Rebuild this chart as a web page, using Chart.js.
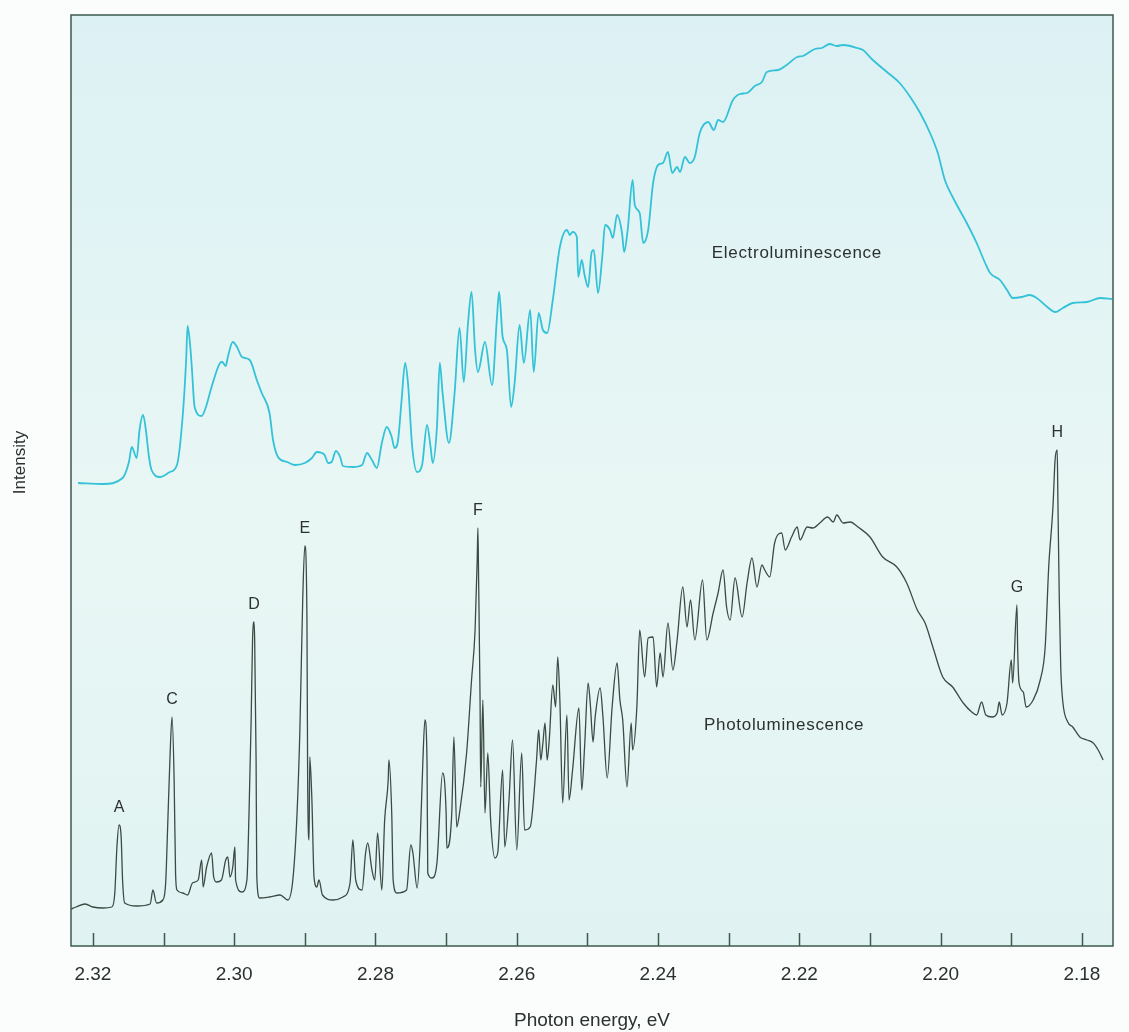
<!DOCTYPE html>
<html>
<head>
<meta charset="utf-8">
<title>Electroluminescence and photoluminescence spectra</title>
<script src="https://cdn.jsdelivr.net/npm/chart.js@4/dist/chart.umd.min.js"></script>
<style>
  html, body { margin: 0; padding: 0; background: #fbfdfc; }
  #wrap { width: 1129px; height: 1032px; }
</style>
</head>
<body>
<div id="wrap"><canvas id="spectrumChart" width="1129" height="1032"></canvas></div>
<script>
// photon energy (eV) and intensity (arbitrary units)
const elEnergy = [2.3221, 2.3186, 2.3158, 2.3149, 2.3145, 2.3138, 2.3134, 2.3129, 2.3125, 2.3121,
  2.3117, 2.3105, 2.3091, 2.3081, 2.3073, 2.3068, 2.3066, 2.3063, 2.3060, 2.3056,
  2.3046, 2.3040, 2.3032, 2.3020, 2.3017, 2.3012, 2.3009, 2.3002, 2.2996, 2.2989,
  2.2978, 2.2968, 2.2961, 2.2950, 2.2945, 2.2938, 2.2925, 2.2914, 2.2900, 2.2890,
  2.2883, 2.2876, 2.2872, 2.2867, 2.2862, 2.2856, 2.2850, 2.2846, 2.2832, 2.2819,
  2.2812, 2.2805, 2.2798, 2.2791, 2.2784, 2.2777, 2.2773, 2.2768, 2.2763, 2.2758,
  2.2754, 2.2748, 2.2741, 2.2734, 2.2727, 2.2722, 2.2719, 2.2713, 2.2709, 2.2705,
  2.2696, 2.2688, 2.2681, 2.2675, 2.2669, 2.2664, 2.2659, 2.2655, 2.2645, 2.2635,
  2.2628, 2.2625, 2.2620, 2.2614, 2.2608, 2.2603, 2.2596, 2.2590, 2.2581, 2.2576,
  2.2569, 2.2563, 2.2557, 2.2549, 2.2539, 2.2529, 2.2525, 2.2521, 2.2515, 2.2513,
  2.2508, 2.2504, 2.2499, 2.2494, 2.2491, 2.2485, 2.2479, 2.2475, 2.2468, 2.2464,
  2.2458, 2.2451, 2.2448, 2.2443, 2.2436, 2.2433, 2.2426, 2.2421, 2.2414, 2.2407,
  2.2400, 2.2393, 2.2386, 2.2380, 2.2373, 2.2369, 2.2362, 2.2355, 2.2348, 2.2341,
  2.2329, 2.2321, 2.2315, 2.2308, 2.2294, 2.2284, 2.2274, 2.2263, 2.2253, 2.2246,
  2.2230, 2.2218, 2.2203, 2.2195, 2.2178, 2.2168, 2.2157, 2.2147, 2.2138, 2.2118,
  2.2110, 2.2096, 2.2076, 2.2058, 2.2043, 2.2029, 2.2015, 2.2004, 2.1994, 2.1983,
  2.1963, 2.1949, 2.1937, 2.1930, 2.1916, 2.1906, 2.1898, 2.1885, 2.1874, 2.1864,
  2.1849, 2.1838, 2.1827, 2.1813, 2.1793, 2.1774, 2.1757];
const elIntensity = [463, 462, 468, 484, 499, 488, 516, 531, 516, 491,
  476, 469, 474, 481, 529, 586, 620, 606, 579, 539,
  530, 539, 559, 583, 584, 580, 589, 604, 599, 589,
  586, 566, 553, 533, 506, 489, 484, 481, 483, 488,
  494, 493, 491, 483, 484, 495, 489, 480, 479, 481,
  493, 486, 478, 503, 519, 509, 498, 506, 546, 583,
  563, 499, 474, 481, 521, 499, 483, 519, 583, 553,
  503, 553, 618, 564, 623, 654, 596, 574, 604, 561,
  629, 654, 609, 596, 539, 563, 621, 583, 636, 574,
  633, 616, 613, 646, 699, 716, 711, 714, 709, 669,
  686, 671, 659, 694, 696, 653, 689, 721, 716, 708,
  731, 713, 694, 716, 766, 741, 733, 703, 716, 763,
  781, 783, 794, 773, 779, 774, 789, 783, 789, 813,
  824, 816, 826, 824, 846, 852, 853, 860, 864, 874,
  876, 881, 889, 890, 897, 898, 902, 900, 901, 898,
  896, 886, 874, 863, 849, 833, 813, 793, 766, 749,
  723, 703, 683, 673, 666, 656, 648, 649, 651, 648,
  639, 634, 638, 643, 644, 648, 647];

const plEnergy = [2.3231, 2.3224, 2.3211, 2.3200, 2.3186, 2.3173, 2.3169, 2.3166, 2.3163, 2.3160,
  2.3158, 2.3155, 2.3138, 2.3119, 2.3115, 2.3110, 2.3101, 2.3097, 2.3094, 2.3091,
  2.3088, 2.3085, 2.3083, 2.3081, 2.3073, 2.3066, 2.3059, 2.3051, 2.3046, 2.3044,
  2.3039, 2.3032, 2.3029, 2.3025, 2.3018, 2.3012, 2.3009, 2.3006, 2.3002, 2.2999,
  2.2998, 2.2989, 2.2982, 2.2979, 2.2976, 2.2974, 2.2972, 2.2971, 2.2969, 2.2968,
  2.2964, 2.2950, 2.2935, 2.2924, 2.2917, 2.2911, 2.2907, 2.2903, 2.2900, 2.2897,
  2.2896, 2.2894, 2.2893, 2.2890, 2.2887, 2.2883, 2.2880, 2.2875, 2.2860, 2.2846,
  2.2836, 2.2832, 2.2828, 2.2819, 2.2814, 2.2811, 2.2805, 2.2801, 2.2797, 2.2791,
  2.2787, 2.2782, 2.2781, 2.2777, 2.2775, 2.2770, 2.2756, 2.2750, 2.2747, 2.2741,
  2.2737, 2.2733, 2.2730, 2.2727, 2.2726, 2.2720, 2.2713, 2.2705, 2.2700, 2.2699,
  2.2692, 2.2689, 2.2685, 2.2681, 2.2671, 2.2664, 2.2659, 2.2656, 2.2655, 2.2654,
  2.2652, 2.2651, 2.2648, 2.2645, 2.2641, 2.2637, 2.2631, 2.2627, 2.2620, 2.2617,
  2.2611, 2.2606, 2.2600, 2.2593, 2.2589, 2.2581,
  2.2572, 2.2569, 2.2566, 2.2563, 2.2560, 2.2557, 2.2554, 2.2549, 2.2545, 2.2542,
  2.2539, 2.2535, 2.2529, 2.2526, 2.2521, 2.2512, 2.2508, 2.2504, 2.2499, 2.2496,
  2.2492, 2.2489, 2.2482, 2.2478, 2.2472, 2.2465, 2.2458, 2.2454, 2.2450, 2.2444,
  2.2438, 2.2436, 2.2430, 2.2426, 2.2419, 2.2414, 2.2407, 2.2402, 2.2397, 2.2393,
  2.2386, 2.2379, 2.2373, 2.2365, 2.2359, 2.2354, 2.2348, 2.2337, 2.2331,
  2.2322, 2.2315, 2.2308, 2.2303, 2.2298, 2.2291, 2.2281,
  2.2274, 2.2267, 2.2260, 2.2253, 2.2249, 2.2242, 2.2235, 2.2225, 2.2220, 2.2211,
  2.2203, 2.2199, 2.2189, 2.2181, 2.2171, 2.2160, 2.2152, 2.2147, 2.2138, 2.2128,
  2.2117, 2.2100, 2.2082, 2.2062, 2.2048, 2.2033, 2.2022, 2.2011, 2.1997, 2.1983,
  2.1968, 2.1956, 2.1949, 2.1942, 2.1936, 2.1927, 2.1920, 2.1917, 2.1913, 2.1906,
  2.1900, 2.1898, 2.1892, 2.1891, 2.1889, 2.1883, 2.1879, 2.1869, 2.1859, 2.1852,
  2.1847, 2.1841, 2.1838, 2.1835, 2.1834, 2.1832, 2.1830, 2.1827, 2.1820, 2.1813,
  2.1803, 2.1793, 2.1784, 2.1777, 2.1770];
const plIntensity = [37, 39, 42, 39, 38, 39, 53, 99, 121, 109,
  66, 43, 40, 42, 56, 43, 46, 63, 123, 186,
  229, 166, 73, 56, 53, 51, 63, 66, 86, 59,
  79, 93, 69, 64, 66, 86, 89, 69, 79, 99,
  66, 54, 66, 133, 226, 306, 324, 306, 186, 69,
  48, 49, 51, 46, 66, 133, 216, 346, 400, 326,
  166, 106, 189, 146, 69, 59, 66, 51, 46, 49,
  63, 106, 66, 56, 93, 103, 76, 66, 113, 56,
  126, 166, 186, 133, 66, 53, 56, 101, 93, 58,
  99, 183, 226, 183, 73, 68, 83, 173, 133, 98,
  133, 209, 119, 133, 193, 266, 316, 386, 418, 366,
  249, 159, 246, 133, 193, 126, 88, 93, 176, 99,
  146, 206, 96, 193, 116, 119,
  186, 216, 186, 203, 223, 186, 206, 261, 239, 289,
  246, 143, 231, 146, 176, 238, 156, 199, 263, 243,
  204, 229, 258, 229, 168, 239, 283, 246, 226, 159,
  223, 196, 239, 316, 269, 308, 309, 259, 293, 269,
  323, 276, 306, 359, 319, 346, 306, 366, 306,
  333, 353, 376, 339, 326, 368, 329,
  363, 388, 359, 381, 376, 369, 403, 413, 396, 409,
  419, 406, 419, 418, 423, 429, 424, 431, 423, 424,
  419, 409, 389, 379, 363, 336, 323, 299, 269, 259,
  243, 234, 231, 244, 231, 229, 233, 244, 231, 243,
  286, 263, 341, 299, 263, 254, 239, 246, 266, 299,
  379, 439, 486, 496, 446, 346, 279, 244, 224, 219,
  209, 206, 203, 196, 186];

const energyTicks = [2.32, 2.31, 2.30, 2.29, 2.28, 2.27, 2.26, 2.25, 2.24, 2.23, 2.22, 2.21, 2.20, 2.19, 2.18];
const energyLabels = ['2.32', '2.30', '2.28', '2.26', '2.24', '2.22', '2.20', '2.18'];

const peakNames = ['A', 'C', 'D', 'E', 'F', 'G', 'H'];
const peakEnergies = [2.3163, 2.3088, 2.2972, 2.2900, 2.2655, 2.1892, 2.1835];

const curveNotes = [
  { text: 'Electroluminescence', energy: 2.2324, level: 693 },
  { text: 'Photoluminescence', energy: 2.2335, level: 221 }
];

const inkColor = '#2b312e';
const fontFamily = '"Liberation Sans", Arial, Helvetica, sans-serif';

// paper tint, frame, inward ticks and the text written on the plot
const paperPlugin = {
  id: 'paper',
  beforeDraw(chart) {
    const { ctx, chartArea: a } = chart;
    ctx.save();
    ctx.fillStyle = '#fbfdfc';
    ctx.fillRect(0, 0, chart.width, chart.height);
    const g = ctx.createLinearGradient(0, a.top, 0, a.bottom);
    g.addColorStop(0, '#dcf1f4');
    g.addColorStop(0.55, '#e9f7f4');
    g.addColorStop(1, '#e0f3f2');
    ctx.fillStyle = g;
    ctx.fillRect(a.left, a.top, a.right - a.left, a.bottom - a.top);
    ctx.restore();
  },
  afterDatasetsDraw(chart) {
    const { ctx, chartArea: a, scales: { x, y } } = chart;
    ctx.save();
    ctx.strokeStyle = '#3d5a4d';
    ctx.lineWidth = 1.5;
    ctx.strokeRect(a.left, a.top, a.right - a.left, a.bottom - a.top);

    ctx.beginPath();
    energyTicks.forEach(v => {
      const px = Math.round(x.getPixelForValue(v)) + 0.5;
      ctx.moveTo(px, a.bottom);
      ctx.lineTo(px, a.bottom - 13);
    });
    ctx.stroke();

    ctx.fillStyle = inkColor;
    ctx.font = '16px ' + fontFamily;
    ctx.textAlign = 'center';
    ctx.textBaseline = 'middle';
    peakNames.forEach((name, i) => {
      const e = peakEnergies[i];
      let top = 0;
      plEnergy.forEach((v, j) => {
        if (Math.abs(v - e) < 0.0006) top = Math.max(top, plIntensity[j]);
      });
      ctx.fillText(name, x.getPixelForValue(e), y.getPixelForValue(top) - 17);
    });

    // y-axis name, set a little above the middle of the frame as in the original
    ctx.save();
    ctx.font = '17px ' + fontFamily;
    ctx.translate(20, (a.top + a.bottom) / 2 - 18);
    ctx.rotate(-Math.PI / 2);
    ctx.fillText('Intensity', 0, 0);
    ctx.restore();

    ctx.font = '17px ' + fontFamily;
    ctx.letterSpacing = '0.7px';
    ctx.textAlign = 'left';
    curveNotes.forEach(n => {
      ctx.fillText(n.text, x.getPixelForValue(n.energy), y.getPixelForValue(n.level));
    });
    ctx.restore();
  }
};

new Chart(document.getElementById('spectrumChart'), {
  type: 'line',
  data: {
    datasets: [
      {
        label: 'Electroluminescence',
        data: elEnergy.map((e, i) => ({ x: e, y: elIntensity[i] })),
        borderColor: '#33c2d8',
        borderWidth: 1.8,
        pointRadius: 0,
        cubicInterpolationMode: 'monotone'
      },
      {
        label: 'Photoluminescence',
        data: plEnergy.map((e, i) => ({ x: e, y: plIntensity[i] })),
        borderColor: '#3d4a44',
        borderWidth: 1.3,
        pointRadius: 0,
        cubicInterpolationMode: 'monotone'
      }
    ]
  },
  options: {
    responsive: false,
    animation: false,
    layout: { padding: { left: 0, top: 15, right: 16, bottom: 0 } },
    plugins: {
      legend: { display: false },
      tooltip: { enabled: false }
    },
    scales: {
      x: {
        type: 'linear',
        reverse: true,
        min: 2.1756,
        max: 2.3231,
        afterFit: s => { s.height = 86; },
        afterBuildTicks: s => { s.ticks = energyTicks.map(v => ({ value: v })); },
        grid: { display: false, drawTicks: false },
        border: { display: false },
        ticks: {
          padding: 17,
          color: inkColor,
          autoSkip: false,
          maxRotation: 0,
          font: { family: fontFamily, size: 19 },
          callback: v => {
            const t = Number(v).toFixed(2);
            return energyLabels.includes(t) ? t : '';
          }
        },
        title: {
          display: true,
          text: 'Photon energy, eV',
          color: inkColor,
          font: { family: fontFamily, size: 19 },
          padding: { top: 0, bottom: 0 }
        }
      },
      y: {
        min: 0,
        max: 931,
        afterFit: s => { s.width = 71; },
        grid: { display: false },
        border: { display: false },
        ticks: { display: false },
        title: { display: false }
      }
    }
  },
  plugins: [paperPlugin]
});
</script>
</body>
</html>
